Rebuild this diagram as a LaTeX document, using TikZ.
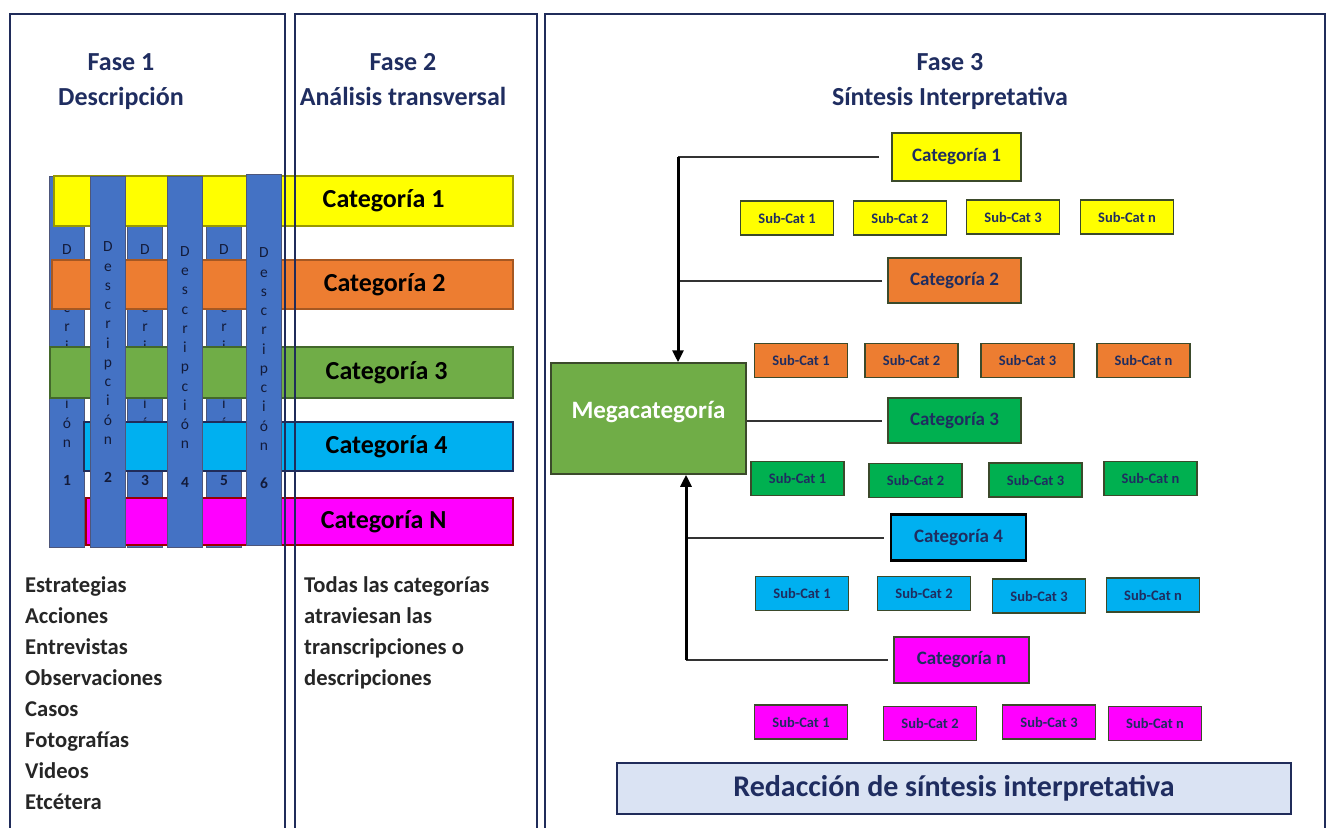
\documentclass[tikz,border=0pt]{standalone}
\usepackage{fontspec}
\setmainfont{Carlito}
\usetikzlibrary{arrows.meta}
% Colores
\definecolor{azulosc}{RGB}{31,45,96}
\definecolor{marco}{RGB}{32,44,90}
\definecolor{amarillo}{RGB}{255,255,0}
\definecolor{naranja}{RGB}{237,125,49}
\definecolor{verdeclaro}{RGB}{112,173,71}
\definecolor{verde}{RGB}{0,176,80}
\definecolor{celeste}{RGB}{0,176,240}
\definecolor{magenta}{RGB}{255,0,255}
\definecolor{azulcol}{RGB}{68,114,196}
\definecolor{bordeol}{RGB}{59,74,43}
\definecolor{grisazul}{RGB}{218,227,243}
\tikzset{
  panel/.style={draw=marco,line width=2.5pt},
  titulo/.style={font=\bfseries\fontsize{26}{35}\selectfont,text=azulosc,align=center},
  bar/.style={line width=1.2pt,inner sep=0pt},
  bartext/.style={font=\bfseries\fontsize{26}{30}\selectfont,text=black},
  vcol/.style={fill=azulcol,draw=marco!80,line width=1pt,minimum width=35pt,minimum height=371pt,inner sep=0pt},
  vtext/.style={font=\fontsize{15.5}{19.25}\selectfont,text=azulosc!60!black,align=center,inner sep=0pt},
  lista/.style={font=\bfseries\fontsize{22.6}{31}\selectfont,text=black!85,align=left,inner sep=0pt,anchor=north west},
  catbox/.style={draw=bordeol,line width=2pt,font=\bfseries\fontsize{19}{22}\selectfont,text=azulosc,inner sep=0pt},
  subbox/.style={draw=bordeol,line width=1.8pt,minimum width=93pt,minimum height=34pt,font=\bfseries\fontsize{14.5}{16}\selectfont,text=azulosc,inner sep=0pt},
  link/.style={draw=black!80,line width=2pt},
  flow/.style={draw=black,line width=3pt,-{Triangle[length=12pt,width=11pt]}}
}
\begin{document}
\begin{tikzpicture}[x=1pt,y=-1pt]
\useasboundingbox (0,0) rectangle (1327,827);
% Titulos
\node[titulo] (h1) at (121,82) {Fase 1\\Descripción};
\node[titulo] (h2) at (403,80) {Fase 2\\Análisis transversal};
\node[titulo] (h3) at (950,82) {Fase 3\\Síntesis Interpretativa};
% Columnas de atras (1, 3, 5)
\node[vcol] (col1) at (67,361.5) {};
\node[vcol] (col3) at (145,361.5) {};
\node[vcol] (col5) at (224,361.5) {};
\node[vtext] (d1) at (67,365.5) {D\\e\\s\\c\\r\\i\\p\\c\\i\\ó\\n\\[19.25pt]\textbf{1}};
\node[vtext] (d3) at (145,365.5) {D\\e\\s\\c\\r\\i\\p\\c\\i\\ó\\n\\[19.25pt]\textbf{3}};
\node[vtext] (d5) at (224,365.5) {D\\e\\s\\c\\r\\i\\p\\c\\i\\ó\\n\\[19.25pt]\textbf{5}};
% Barras de categorias
\node[bar,fill=amarillo,draw=amarillo!60!black,minimum width=459pt,minimum height=50pt] (b1) at (283.5,201) {};
\node[bar,fill=naranja,draw=naranja!70!black,minimum width=461pt,minimum height=49pt] (b2) at (282.5,284.5) {};
\node[bar,fill=verdeclaro,draw=verdeclaro!60!black,minimum width=463pt,minimum height=51pt] (b3) at (281.5,372.5) {};
\node[bar,fill=celeste,draw=marco,minimum width=429pt,minimum height=49pt] (b4) at (298.5,446.5) {};
\node[bar,fill=magenta,draw=red!60!black,minimum width=427pt,minimum height=47pt] (b5) at (299.5,521.5) {};
\node[bartext] (t1) at ([xshift=-130pt]b1.east) {Categoría 1};
\node[bartext] (t2) at ([xshift=-129pt]b2.east) {Categoría 2};
\node[bartext] (t3) at ([xshift=-127pt]b3.east) {Categoría 3};
\node[bartext] (t4) at ([xshift=-127pt]b4.east) {Categoría 4};
\node[bartext] (t5) at ([xshift=-130pt]b5.east) {Categoría N};
% Columnas de adelante (2, 4, 6)
\node[vcol] (col2) at (108,361.5) {};
\node[vcol] (col4) at (185,361.5) {};
\node[vcol] (col6) at (264,360) {};
\node[vtext] (d2) at (108,362.5) {D\\e\\s\\c\\r\\i\\p\\c\\i\\ó\\n\\[19.25pt]\textbf{2}};
\node[vtext] (d4) at (185,367) {D\\e\\s\\c\\r\\i\\p\\c\\i\\ó\\n\\[19.25pt]\textbf{4}};
\node[vtext] (d6) at (264,368.5) {D\\e\\s\\c\\r\\i\\p\\c\\i\\ó\\n\\[19.25pt]\textbf{6}};
% Textos de abajo
\node[lista] (l1) at (25,576) {Estrategias\\Acciones\\Entrevistas\\Observaciones\\Casos\\Fotografías\\Videos\\Etcétera};
\node[lista] (l2) at (304,576) {Todas las categorías\\atraviesan las\\transcripciones o\\descripciones};
% Fase 3
\node[draw=bordeol,line width=1.5pt,fill=verdeclaro,minimum width=195pt,minimum height=111pt,inner sep=0pt,text=white,font=\bfseries\fontsize{25}{28}\selectfont] (mega) at (648.5,418.5) {\raisebox{17pt}{Megacategoría}};
\node[catbox,fill=amarillo,minimum width=129pt,minimum height=48pt] (c1) at (956.5,157) {Categoría 1};
\node[catbox,fill=naranja,minimum width=133pt,minimum height=45pt] (c2) at (954.5,280.5) {Categoría 2};
\node[catbox,fill=verde,minimum width=133pt,minimum height=45pt] (c3) at (954.5,420.5) {Categoría 3};
\node[catbox,fill=celeste,draw=black,line width=2.5pt,minimum width=135pt,minimum height=46pt] (c4) at (958.5,537.5) {Categoría 4};
\node[catbox,fill=magenta,minimum width=135pt,minimum height=46pt] (c5) at (961.5,660) {Categoría n};
% Subcategorias
\node[subbox,fill=amarillo] (s11) at (787,218) {Sub-Cat 1};
\node[subbox,fill=amarillo] (s12) at (900,218) {Sub-Cat 2};
\node[subbox,fill=amarillo] (s13) at (1013,217) {Sub-Cat 3};
\node[subbox,fill=amarillo] (s14) at (1127,217) {Sub-Cat n};
\node[subbox,fill=naranja] (s21) at (801,360.5) {Sub-Cat 1};
\node[subbox,fill=naranja] (s22) at (911.5,360.5) {Sub-Cat 2};
\node[subbox,fill=naranja] (s23) at (1027.5,360.5) {Sub-Cat 3};
\node[subbox,fill=naranja] (s24) at (1143.5,360.5) {Sub-Cat n};
\node[subbox,fill=verde] (s31) at (797.5,478.5) {Sub-Cat 1};
\node[subbox,fill=verde] (s32) at (915.5,480.5) {Sub-Cat 2};
\node[subbox,fill=verde] (s33) at (1035.5,480) {Sub-Cat 3};
\node[subbox,fill=verde] (s34) at (1150.5,478.5) {Sub-Cat n};
\node[subbox,fill=celeste] (s41) at (802,593.5) {Sub-Cat 1};
\node[subbox,fill=celeste] (s42) at (924,593.5) {Sub-Cat 2};
\node[subbox,fill=celeste] (s43) at (1039,596) {Sub-Cat 3};
\node[subbox,fill=celeste] (s44) at (1153,595) {Sub-Cat n};
\node[subbox,fill=magenta] (s51) at (801,722) {Sub-Cat 1};
\node[subbox,fill=magenta] (s52) at (930,723.5) {Sub-Cat 2};
\node[subbox,fill=magenta] (s53) at (1049,722) {Sub-Cat 3};
\node[subbox,fill=magenta] (s54) at (1155,723.5) {Sub-Cat n};
% Redaccion
\node[draw=marco,line width=2.5pt,fill=grisazul,minimum width=674pt,minimum height=51pt,inner sep=0pt,text=azulosc,font=\bfseries\fontsize{30}{32}\selectfont] (red) at (954,788.5) {Redacción de síntesis interpretativa};
% Conectores
\coordinate (jtop) at (678,157);
\coordinate (jbot) at (686,660);
\draw[link,shorten <=12pt] (c1.west) -- (jtop);
\draw[link,shorten <=5pt] (c2.west) -- (c2.west -| jtop);
\draw[link,shorten >=5pt] (mega.east |- c3.west) -- (c3.west);
\draw[link,shorten <=6pt] (c4.west) -- (c4.west -| jbot);
\draw[link,shorten <=5pt] (c5.west) -- (jbot);
\draw[flow] (jtop) -- (jtop |- mega.north);
\draw[flow] (jbot) -- (jbot |- mega.south);
% Marcos
\draw[panel] (10,830) -- (10,14) -- (285,14) -- (285,830);
\draw[panel] (295,830) -- (295,14) -- (537,14) -- (537,830);
\draw[panel] (545,830) -- (545,14) -- (1325,14) -- (1325,830);
\end{tikzpicture}
\end{document}
